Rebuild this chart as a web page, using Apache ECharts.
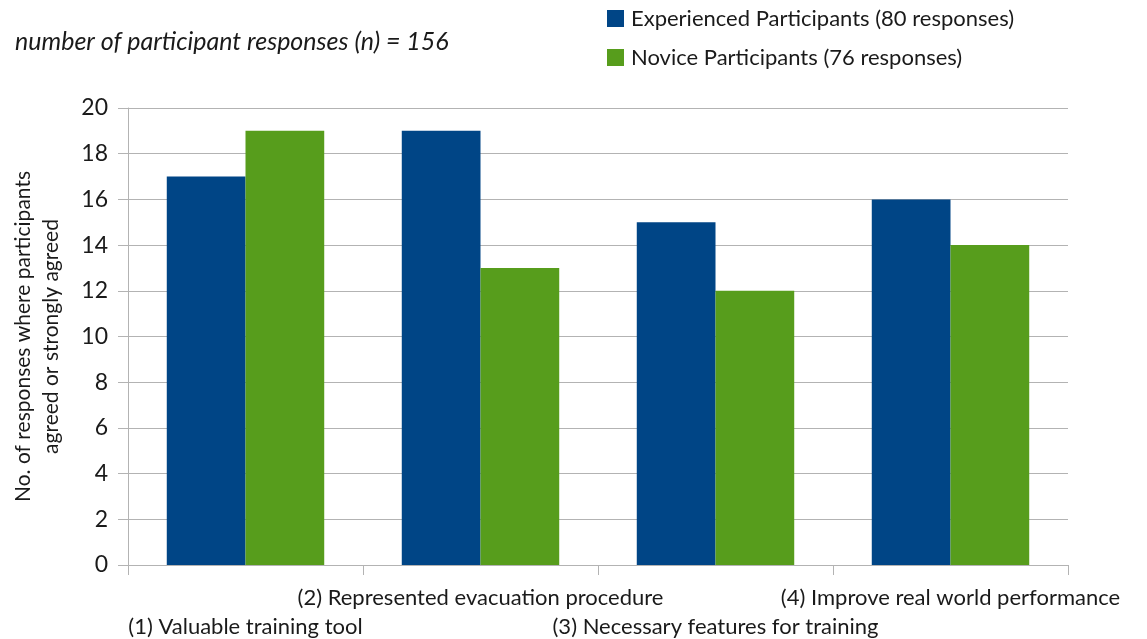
<!DOCTYPE html>
<html>
<head>
<meta charset="utf-8">
<script src="https://cdn.jsdelivr.net/npm/echarts@6/dist/echarts.min.js"></script>
<style>
html,body{margin:0;padding:0;background:#fff;}
#main{width:1147px;height:639px;}
</style>
</head>
<body>
<div id="main"></div>
<script>
const categories = [
  "(1) Valuable training tool",
  "(2) Represented evacuation procedure",
  "(3) Necessary features for training",
  "(4) Improve real world performance"
];
const seriesNames = ["Experienced Participants (80 responses)", "Novice Participants (76 responses)"];
const experienced = [17, 19, 15, 16];
const novice = [19, 13, 12, 14];
const yTicks = [0, 2, 4, 6, 8, 10, 12, 14, 16, 18, 20];
const titleText = "number of participant responses (n) = 156";
const yAxisName = "No. of responses where participants\nagreed or strongly agreed";

const FONT = "Lato";
const chart = echarts.init(document.getElementById('main'), null, {renderer: 'canvas'});
chart.setOption({
  animation: false,
  backgroundColor: '#ffffff',
  textStyle: {fontFamily: FONT},
  title: {
    text: titleText,
    left: 10, top: 24,
    textStyle: {fontFamily: FONT, fontStyle: 'italic', fontWeight: 'normal', fontSize: 25, color: '#1a1a1a'}
  },
  legend: {
    orient: 'vertical',
    left: 602, top: 2,
    itemWidth: 17, itemHeight: 17,
    itemGap: 16,
    icon: 'rect',
    data: seriesNames,
    textStyle: {fontFamily: FONT, fontSize: 22, color: '#1a1a1a', lineHeight: 23, padding: [0,0,0,2]}
  },
  grid: {left: 128, right: 79, top: 108, bottom: 74, containLabel: false, outerBoundsMode: 'none'},
  xAxis: {
    type: 'category',
    data: categories,
    boundaryGap: true,
    axisLine: {show: true, lineStyle: {color: '#b3b3b3', width: 1}},
    axisTick: {show: true, length: 10, alignWithLabel: false, lineStyle: {color: '#b3b3b3'}},
    axisLabel: {
      interval: 0,
      margin: 18,
      color: '#1a1a1a',
      fontFamily: FONT,
      fontSize: 22,
      lineHeight: 29,
      formatter: function (v, i) { return i % 2 === 0 ? '\n' + v : v; }
    }
  },
  yAxis: {
    type: 'value',
    min: 0, max: 20, interval: 2,
    name: yAxisName,
    nameLocation: 'middle',
    nameGap: 63,
    nameRotate: 90,
    nameTextStyle: {fontFamily: FONT, fontSize: 21, color: '#1a1a1a', lineHeight: 28},
    axisLine: {show: true, lineStyle: {color: '#b3b3b3', width: 1}},
    axisTick: {show: true, length: 10, lineStyle: {color: '#b3b3b3'}},
    axisLabel: {color: '#1a1a1a', fontFamily: FONT, fontSize: 23, margin: 20},
    splitLine: {show: true, lineStyle: {color: '#b3b3b3', width: 1}}
  },
  series: [
    {name: seriesNames[0], type: 'bar', data: experienced, barGap: '0%', barCategoryGap: '33%', itemStyle: {color: '#004586'}},
    {name: seriesNames[1], type: 'bar', data: novice, barGap: '0%', barCategoryGap: '33%', itemStyle: {color: '#579d1c'}}
  ]
});
</script>
</body>
</html>
